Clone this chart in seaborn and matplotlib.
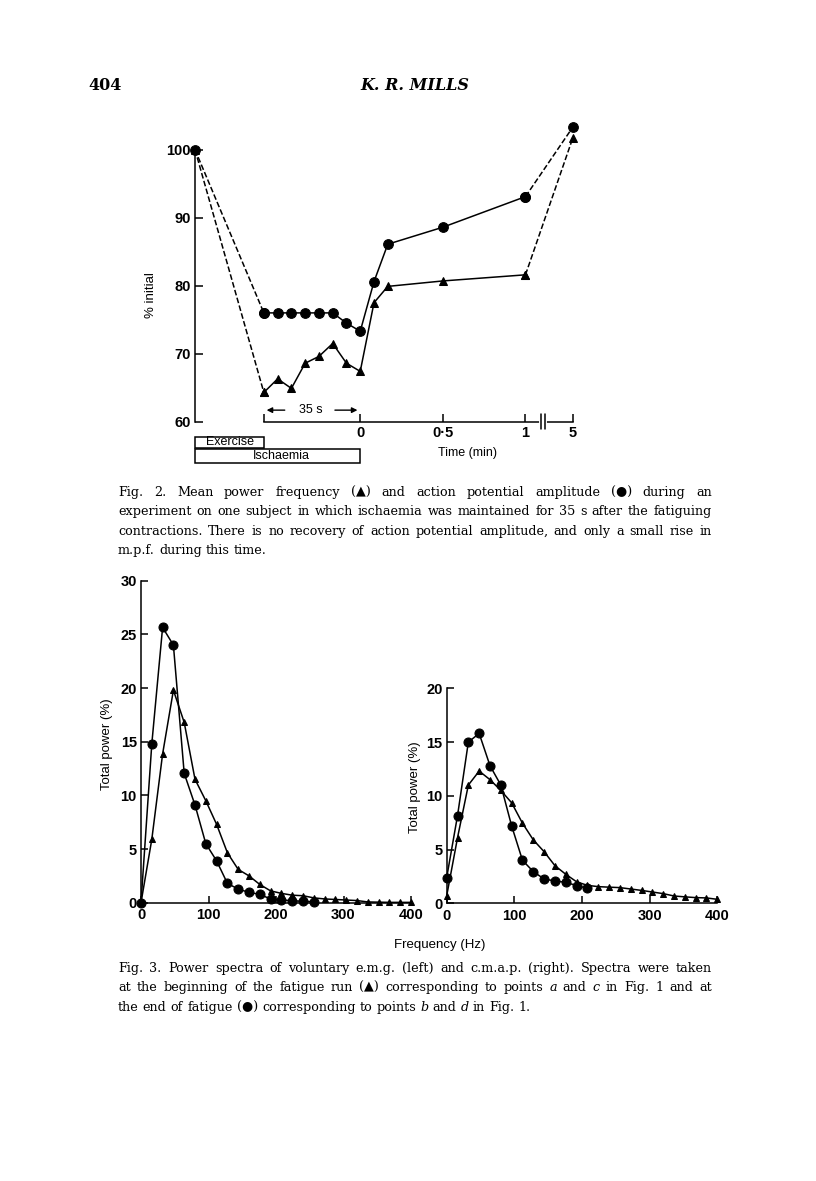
import numpy as np
import pandas as pd
import matplotlib
matplotlib.use("Agg")
import matplotlib.pyplot as plt
from matplotlib.patches import Rectangle
import seaborn as sns

# --- Fig. 2: % of initial value vs time (min, relative to end of ischaemia) ---
# first point = control before exercise, last point = 5 min (plotted after the axis break)
fig2_time = [-1.0, -35/60, -30/60, -25/60, -20/60, -15/60, -10/60, -5/60, 0.0,
             5/60, 10/60, 0.5, 1.0, 5.0]
amp_pct = [100, 76, 76, 76, 76, 76, 76, 74.5, 73.3, 80.6, 86.1, 88.6, 93.1, 103.3]
mpf_pct = [100, 64.3, 66.3, 64.9, 68.6, 69.6, 71.5, 68.6, 67.4, 77.5, 79.9, 80.7, 81.6, 101.7]
fig2_yticks = [60, 70, 80, 90, 100]
fig2_xticks = [-35/60, 0, 0.5, 1, 5]
fig2_xticklabels = ["", "0", "0\u00b75", "1", "5"]

# --- Fig. 3: power spectra, % of total power per 16 Hz bin ---
freq_hz = [0, 16, 32, 48, 64, 80, 96, 112, 128, 144, 160, 176, 192, 208, 224, 240,
           256, 272, 288, 304, 320, 336, 352, 368, 384, 400]
emg_start = [0, 5.9, 13.85, 19.8, 16.8, 11.5, 9.5, 7.3, 4.65, 3.1, 2.5, 1.7, 1.1, 0.87,
             0.7, 0.65, 0.45, 0.35, 0.3, 0.25, 0.2, 0.07, 0.05, 0.03, 0.03, 0.03]
emg_end = [0, 14.8, 25.65, 24.0, 12.05, 9.1, 5.5, 3.9, 1.8, 1.27, 0.96, 0.78, 0.34,
           0.25, 0.19, 0.12, 0.1]
cmap_start = [0.7, 6.1, 11.0, 12.3, 11.5, 10.5, 9.35, 7.45, 5.9, 4.8, 3.5, 2.7, 2.0, 1.67,
              1.55, 1.5, 1.46, 1.33, 1.2, 1.05, 0.9, 0.68, 0.6, 0.53, 0.5, 0.37]
cmap_end = [2.4, 8.15, 15.0, 15.8, 12.8, 11.0, 7.2, 4.0, 2.95, 2.26, 2.08, 1.95, 1.65, 1.4]
freq_ticks = [0, 100, 200, 300, 400]

cap2 = ["Fig. 2. Mean power frequency (\u25b2) and action potential amplitude (\u25cf) during an",
        "experiment on one subject in which ischaemia was maintained for 35 s after the fatiguing",
        "contractions. There is no recovery of action potential amplitude, and only a small rise in",
        "m.p.f. during this time."]
cap3 = ["Fig. 3. Power spectra of voluntary e.m.g. (left) and c.m.a.p. (right). Spectra were taken",
        "at the beginning of the fatigue run (\u25b2) corresponding to points *a* and *c* in Fig. 1 and at",
        "the end of fatigue (\u25cf) corresponding to points *b* and *d* in Fig. 1."]

W, H = 816, 1181
BREAK_X = 1.286   # where "5 min" sits on the broken time axis

sns.set_style("ticks")
plt.rcParams["font.family"] = ["Liberation Sans", "DejaVu Sans"]
plt.rcParams["axes.linewidth"] = 1.1
plt.rcParams["xtick.direction"] = "in"
plt.rcParams["ytick.direction"] = "in"
for k in ["text.color", "axes.labelcolor", "xtick.color", "ytick.color", "axes.edgecolor"]:
    plt.rcParams[k] = "black"


def px_rect(x0, y0, x1, y1):
    # pixel box (top-left origin) -> figure fraction rect
    return [x0 / W, 1 - y1 / H, (x1 - x0) / W, (y1 - y0) / H]


fig = plt.figure(figsize=(W / 100, H / 100), dpi=100)
fig.patch.set_facecolor("white")

fig.text(88 / W, 1 - 86 / H, "404", family="DejaVu Serif", fontweight="bold",
         fontsize=11.5, va="center", ha="left")
fig.text(415 / W, 1 - 86 / H, "K. R. MILLS", family="DejaVu Serif", fontweight="bold",
         style="italic", fontsize=11.5, va="center", ha="center")

# ---------------- Fig. 2 ----------------
ax = fig.add_axes(px_rect(195, 115.7, 583.3, 421.7))
xpos = [t if t <= 1 else BREAK_X for t in fig2_time]
d2 = pd.DataFrame({"x": xpos, "amp": amp_pct, "mpf": mpf_pct})
solid = d2.iloc[1:-1]
dash_a = d2.iloc[:2]
dash_b = d2.iloc[-2:]

line_kw = dict(color="black", lw=1.1, sort=False, estimator=None, clip_on=False)
for part, ls in [(solid, "-"), (dash_a, "--"), (dash_b, "--")]:
    extra = {"dashes": (3.5, 2.5)} if ls == "--" else {}
    sns.lineplot(data=part, x="x", y="mpf", ax=ax, marker="^", ms=5.5, mec="black",
                 mfc="black", linestyle=ls, **line_kw, **extra)
    sns.lineplot(data=part, x="x", y="amp", ax=ax, marker="o", ms=7, mec="black",
                 mfc="black", linestyle=ls, **line_kw, **extra)

ax.set_xlim(-1.0, 1.35)
ax.set_ylim(60, 105)
for s in ["top", "right"]:
    ax.spines[s].set_visible(False)
ax.spines["left"].set_bounds(60, 100)
ax.spines["bottom"].set_bounds(-35/60, BREAK_X)
ax.set_yticks(fig2_yticks)
ax.set_yticklabels([str(v) for v in fig2_yticks])
ax.set_xticks([t if t <= 1 else BREAK_X for t in fig2_xticks])
ax.set_xticklabels(fig2_xticklabels)
ax.tick_params(axis="both", length=6, width=1.1, labelsize=10.5)
ax.tick_params(axis="y", pad=3)
ax.tick_params(axis="x", pad=3)
for lab in ax.get_xticklabels() + ax.get_yticklabels():
    lab.set_fontweight("bold")
ax.set_xlabel("")
ax.set_ylabel("% initial", fontsize=9.5)
ax.yaxis.set_label_coords(-0.098, 0.414)

# axis break
ax.plot([1.094, 1.119], [60, 60], color="white", lw=3, clip_on=False, zorder=5)
for bx in [1.094, 1.119]:
    ax.plot([bx, bx], [58.9, 61.1], color="black", lw=1.1, clip_on=False, zorder=6)

# 35 s arrows
ax.annotate("", xy=(-35/60, 61.7), xytext=(-0.44, 61.7),
            arrowprops=dict(arrowstyle="-|>", color="black", lw=1.0, mutation_scale=8))
ax.annotate("", xy=(0, 61.7), xytext=(-0.17, 61.7),
            arrowprops=dict(arrowstyle="-|>", color="black", lw=1.0, mutation_scale=8))
ax.text(-0.30, 61.7, "35 s", ha="center", va="center", fontsize=9)

# Exercise / Ischaemia bars
ax.add_patch(Rectangle((-1.0, 56.1), 1 - 35/60, 1.7, fill=False, lw=1.1,
                       ec="black", clip_on=False))
ax.add_patch(Rectangle((-1.0, 54.0), 1.0, 1.95, fill=False, lw=1.1,
                       ec="black", clip_on=False))
ax.text(-0.786, 56.95, "Exercise", ha="center", va="center", fontsize=9)
ax.text(-0.48, 54.97, "Ischaemia", ha="center", va="center", fontsize=9)
fig.text(468 / W, 1 - 453 / H, "Time (min)", ha="center", va="center", fontsize=9)

# ---------------- Fig. 3 ----------------
axl = fig.add_axes(px_rect(141, 580.7, 411, 902.7))
axr = fig.add_axes(px_rect(446.7, 688.3, 717.3, 903.3))

spectra = [
    (axl, emg_start, emg_end, [0, 5, 10, 15, 20, 25, 30], 30, (-0.104, 0.493)),
    (axr, cmap_start, cmap_end, [0, 5, 10, 15, 20], 20, (-0.095, 0.54)),
]
for a, tri, circ, yt, ytop, lc in spectra:
    dt = pd.DataFrame({"f": freq_hz[:len(tri)], "p": tri})
    dc = pd.DataFrame({"f": freq_hz[:len(circ)], "p": circ})
    sns.lineplot(data=dt, x="f", y="p", ax=a, marker="^", ms=5, mec="black",
                 mfc="black", **line_kw)
    sns.lineplot(data=dc, x="f", y="p", ax=a, marker="o", ms=6.5, mec="black",
                 mfc="black", **line_kw)
    a.set_xlim(0, 400)
    a.set_ylim(0, ytop)
    for s in ["top", "right"]:
        a.spines[s].set_visible(False)
    a.set_xticks(freq_ticks)
    a.set_xticklabels([str(v) for v in freq_ticks])
    a.set_yticks(yt)
    a.set_yticklabels([str(v) for v in yt])
    a.tick_params(axis="both", length=5, width=1.1, labelsize=10.5)
    a.tick_params(axis="y", pad=3)
    a.tick_params(axis="x", pad=4)
    for lab in a.get_xticklabels() + a.get_yticklabels():
        lab.set_fontweight("bold")
    a.set_xlabel("")
    a.set_ylabel("Total power (%)", fontsize=9.5)
    a.yaxis.set_label_coords(*lc)

fig.text(440 / W, 1 - 945 / H, "Frequency (Hz)", ha="center", va="center", fontsize=9.5)

# ---------------- captions (justified) ----------------
renderer = fig.canvas.get_renderer()
X0, X1 = 118, 712

# pick the font size so the widest line just fits the text block
probe = fig.text(0, 0, "", fontsize=10, family=["DejaVu Serif"])
widest = 0
for line in cap2 + cap3:
    probe.set_text(line.replace("*", ""))
    widest = max(widest, probe.get_window_extent(renderer).width)
probe.remove()
CAP_SIZE = 10 * (X1 - X0) / widest * 0.985


def caption(lines, y_first, dy):
    for i, line in enumerate(lines):
        y = 1 - (y_first + i * dy) / H
        objs = []
        for w in line.split():
            italic = w.startswith("*") and w.endswith("*")
            txt = w.strip("*")
            objs.append(fig.text(0, y, txt, fontsize=CAP_SIZE, ha="left", va="baseline",
                                 family=["DejaVu Serif"], color="black",
                                 style="italic" if italic else "normal"))
        widths = [t.get_window_extent(renderer).width for t in objs]
        if i == len(lines) - 1:
            gap = CAP_SIZE * 100 / 72 * 0.32
        else:
            gap = (X1 - X0 - sum(widths)) / (len(objs) - 1)
        x = X0
        for t, w in zip(objs, widths):
            t.set_x(x / W)
            x += w + gap


caption(cap2, 496, 19.4)
caption(cap3, 972, 19.4)

fig.savefig("out.png", dpi=100, facecolor="white")
